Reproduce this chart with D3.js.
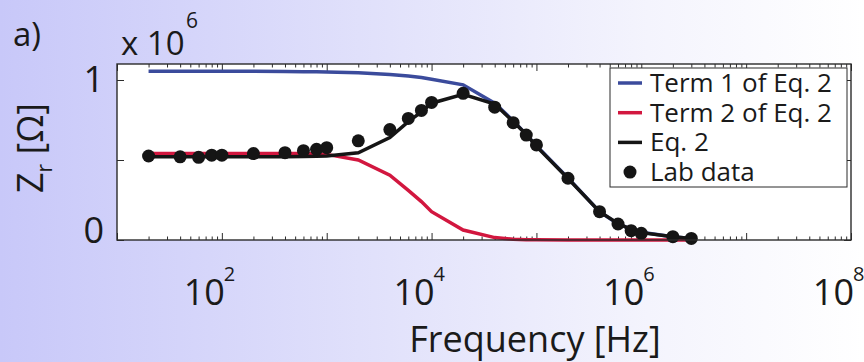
<!DOCTYPE html>
<html>
<head>
<meta charset="utf-8">
<script src="https://cdn.jsdelivr.net/npm/d3@7"></script>
<style>
  body { margin: 0; }
  svg text { font-family: "Open Sans", Lato, sans-serif; fill: #1a1a1a; }
</style>
</head>
<body>
<div id="chart"></div>
<script>
// frequencies [Hz] where lab data and the model were evaluated
var freq = [20, 40, 60, 80, 100, 200, 400, 600, 800, 1e3, 2e3, 4e3, 6e3, 8e3, 1e4,
            2e4, 4e4, 6e4, 8e4, 1e5, 2e5, 4e5, 6e5, 8e5, 1e6, 2e6, 3e6];
// Z_r values in units of 1e6 Ohm
var term1 = [1.055, 1.055, 1.055, 1.055, 1.055, 1.055, 1.053, 1.052, 1.051, 1.05, 1.045, 1.035, 1.025, 1.015, 1.005,
             0.97, 0.855, 0.745, 0.66, 0.59, 0.387, 0.177, 0.10, 0.068, 0.048, 0.02, 0.01];
var term2 = [0.54, 0.54, 0.54, 0.54, 0.54, 0.54, 0.54, 0.54, 0.538, 0.535, 0.50, 0.405, 0.31, 0.24, 0.177,
             0.0625, 0.015, 0.005, 0.002, 0.001, 0, 0, 0, 0, 0, 0, 0];
var eq2 = [0.52, 0.52, 0.52, 0.52, 0.52, 0.52, 0.52, 0.522, 0.523, 0.525, 0.545, 0.64, 0.74, 0.80, 0.855,
           0.91, 0.85, 0.74, 0.66, 0.585, 0.385, 0.177, 0.104, 0.065, 0.046, 0.02, 0.01];
var labData = [0.525, 0.52, 0.517, 0.53, 0.53, 0.54, 0.546, 0.558, 0.567, 0.577, 0.62, 0.69, 0.76, 0.81, 0.86,
               0.917, 0.83, 0.733, 0.656, 0.594, 0.386, 0.177, 0.10, 0.058, 0.042, 0.021, 0.01];

var seriesNames = ["Term 1 of Eq. 2", "Term 2 of Eq. 2", "Eq. 2", "Lab data"];
var xLabelExp = [2, 4, 6, 8];
var yTicks = [0, 0.5, 1];
var yLabelTicks = [0, 1];

var width = 864, height = 362;
var pLeft = 117, pRight = 851, pTop = 64, pBottom = 240;

var colors = { t1: "#3b4b9c", t2: "#d2173f", eq: "#151515" };

var svg = d3.select("#chart").append("svg")
    .attr("width", width)
    .attr("height", height);

// background gradient
var grad = svg.append("defs").append("linearGradient")
    .attr("id", "bg").attr("x1", "0%").attr("x2", "100%");
grad.append("stop").attr("offset", "0%").attr("stop-color", "#c8c8f9");
grad.append("stop").attr("offset", "45%").attr("stop-color", "#e2e2fb");
grad.append("stop").attr("offset", "75%").attr("stop-color", "#f4f4fd");
grad.append("stop").attr("offset", "100%").attr("stop-color", "#ffffff");
svg.append("rect").attr("width", width).attr("height", height).attr("fill", "url(#bg)");

var x = d3.scaleLog().domain([10, 1e8]).range([pLeft, pRight]);
var y = d3.scaleLinear().domain([0, 1.1]).range([pBottom, pTop]);

svg.append("rect")
    .attr("x", pLeft).attr("y", pTop)
    .attr("width", pRight - pLeft).attr("height", pBottom - pTop)
    .attr("fill", "#fff");

// ticks (inside, mirrored like matlab)
var majors = [], minors = [];
for (var e = 1; e <= 8; e++) {
  majors.push(Math.pow(10, e));
  if (e < 8) for (var m = 2; m <= 9; m++) minors.push(m * Math.pow(10, e));
}

function styleAxis(g) {
  g.select(".domain").remove();
  g.selectAll("line").attr("stroke", "#2b2b2b").attr("stroke-width", 1);
  g.selectAll("text").remove();
}

svg.append("g").attr("transform", "translate(0," + pBottom + ")")
  .call(d3.axisBottom(x).tickValues(majors).tickSize(-7)).call(styleAxis);
svg.append("g").attr("transform", "translate(0," + pBottom + ")")
  .call(d3.axisBottom(x).tickValues(minors).tickSize(-3.5)).call(styleAxis);
svg.append("g").attr("transform", "translate(0," + pTop + ")")
  .call(d3.axisTop(x).tickValues(majors).tickSize(-7)).call(styleAxis);
svg.append("g").attr("transform", "translate(0," + pTop + ")")
  .call(d3.axisTop(x).tickValues(minors).tickSize(-3.5)).call(styleAxis);
svg.append("g").attr("transform", "translate(" + pLeft + ",0)")
  .call(d3.axisLeft(y).tickValues(yTicks).tickSize(-7)).call(styleAxis);
svg.append("g").attr("transform", "translate(" + pRight + ",0)")
  .call(d3.axisRight(y).tickValues(yTicks).tickSize(-7)).call(styleAxis);

// lines
var line = d3.line()
    .x(function(d) { return x(d[0]); })
    .y(function(d) { return y(d[1]); });

function pairs(vals) { return freq.map(function(f, i) { return [f, vals[i]]; }); }

svg.append("path").datum(pairs(term1))
    .attr("d", line).attr("fill", "none")
    .attr("stroke", colors.t1).attr("stroke-width", 3.5);
svg.append("path").datum(pairs(term2))
    .attr("d", line).attr("fill", "none")
    .attr("stroke", colors.t2).attr("stroke-width", 3.5);
svg.append("path").datum(pairs(eq2))
    .attr("d", line).attr("fill", "none")
    .attr("stroke", colors.eq).attr("stroke-width", 3.5);

svg.append("g").selectAll("circle")
    .data(pairs(labData))
    .enter().append("circle")
    .attr("cx", function(d) { return x(d[0]); })
    .attr("cy", function(d) { return y(d[1]); })
    .attr("r", 6.5)
    .attr("fill", colors.eq);

// box
svg.append("rect")
    .attr("x", pLeft).attr("y", pTop)
    .attr("width", pRight - pLeft).attr("height", pBottom - pTop)
    .attr("fill", "none").attr("stroke", "#2b2b2b").attr("stroke-width", 1.4);

// x tick labels 10^n
xLabelExp.forEach(function(n) {
  var px = x(Math.pow(10, n));
  svg.append("text")
      .attr("x", px + 3).attr("y", 305)
      .attr("text-anchor", "end")
      .attr("font-size", 36)
      .text("10");
  svg.append("text")
      .attr("x", px + 2).attr("y", 281)
      .attr("font-size", 20)
      .text(n);
});

// y tick labels
yLabelTicks.forEach(function(v) {
  svg.append("text")
      .attr("x", 104).attr("y", y(v) + (v === 0 ? 3 : 12))
      .attr("text-anchor", "end")
      .attr("font-size", 36)
      .text(v);
});

// exponent note
svg.append("text").attr("x", 121).attr("y", 55).attr("font-size", 33).text("x 10");
svg.append("text").attr("x", 186).attr("y", 28).attr("font-size", 21).text("6");

svg.append("text").attr("x", 13).attr("y", 46).attr("font-size", 33).text("a)");

// axis labels
svg.append("text")
    .attr("x", 535).attr("y", 352)
    .attr("text-anchor", "middle")
    .attr("font-size", 36)
    .text("Frequency [Hz]");

var yl = svg.append("text")
    .attr("transform", "translate(43,148) rotate(-90)")
    .attr("text-anchor", "middle")
    .attr("font-size", 36);
yl.append("tspan").text("Z");
yl.append("tspan").attr("font-size", 21).attr("dy", 9).text("r");
yl.append("tspan").attr("dy", -9).text(" [\u03a9]");

// legend
var lg = svg.append("g");
lg.append("rect")
    .attr("x", 610).attr("y", 68).attr("width", 237).attr("height", 119)
    .attr("fill", "#fff").attr("stroke", "#2b2b2b").attr("stroke-width", 1);
var legendColors = [colors.t1, colors.t2, colors.eq, colors.eq];
seriesNames.forEach(function(name, i) {
  var cy = 83 + i * 29.7;
  if (i < 3) {
    lg.append("line")
        .attr("x1", 618).attr("x2", 642).attr("y1", cy).attr("y2", cy)
        .attr("stroke", legendColors[i]).attr("stroke-width", 3.5);
  } else {
    lg.append("circle").attr("cx", 630).attr("cy", cy).attr("r", 6.5).attr("fill", colors.eq);
  }
  lg.append("text")
      .attr("x", 650).attr("y", cy + 9)
      .attr("font-size", 26)
      .text(name);
});
</script>
</body>
</html>
